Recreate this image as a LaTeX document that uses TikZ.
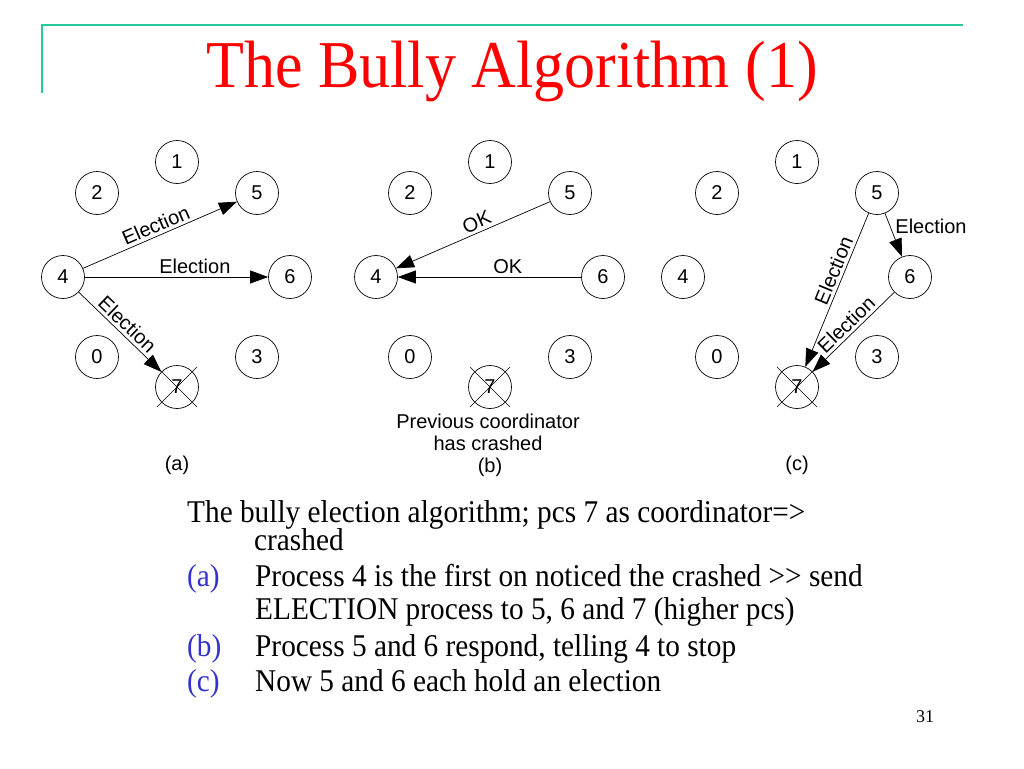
\documentclass[tikz,border=0pt]{standalone}
\usepackage{fontspec}
\usepackage{graphicx}
\setmainfont{Liberation Serif}
\newfontfamily\diagfont{Liberation Sans}
\usetikzlibrary{arrows.meta}
\definecolor{titlered}{RGB}{255,0,0}
\definecolor{frameteal}{RGB}{40,200,160}
\definecolor{itemblue}{RGB}{51,51,204}
\newcommand{\tallx}[1]{\scalebox{1}[1.08]{#1}}
\begin{document}
\begin{tikzpicture}[x=1pt,y=1pt,
  proc/.style={circle,draw,line width=0.7pt,minimum size=43pt,inner sep=0pt,font=\diagfont\fontsize{20}{24}\selectfont},
  msg/.style={draw,line width=0.7pt,-{Triangle[length=18pt,width=13pt]}},
  lbl/.style={font=\diagfont\fontsize{20}{24}\selectfont,inner sep=3pt},
  cross/.style={line width=0.6pt},
  body/.style={anchor=base west,inner sep=0pt,font=\fontsize{29.3}{34}\selectfont},
  tag/.style={body,text=itemblue}]
\useasboundingbox (0,0) rectangle (1024,-768);
% frame lines
\draw[frameteal,line width=2pt] (42,-93) -- (42,-25) -- (963,-25);
% title
\node[anchor=base,inner sep=0pt,text=titlered,font=\fontsize{62}{70}\selectfont] (title) at (512,-87) {\tallx{The Bully Algorithm (1)}};
% processes
\foreach \p/\cx in {a/177,b/490,c/797}{
  \foreach \n/\dx/\dy in {1/0/0,2/-80/31,5/80/31,4/-114/115,6/113/115,0/-80/195,3/80/195,7/0/225}{
    \node[proc] (\p\n) at (\cx+\dx,-162-\dy) {\n};
  }
  \draw[cross] ([shift={(-20,-20)}]\p7.center) -- ([shift={(20,20)}]\p7.center);
  \draw[cross] ([shift={(20,-20)}]\p7.center) -- ([shift={(-20,20)}]\p7.center);
}
% panel (a)
\draw[msg] (a4) -- node[lbl,sloped,above] {Election} (a5);
\draw[msg] (a4) -- node[lbl,above,pos=0.6] {Election} (a6);
\draw[msg] (a4) -- node[lbl,sloped,above] {Election} (a7);
% panel (b)
\draw[msg] (b5) -- node[lbl,sloped,above,pos=0.45] {OK} (b4);
\draw[msg] (b6) -- node[lbl,above,pos=0.4] {OK} (b4);
% panel (c)
\draw[msg] (c5) -- node[lbl,sloped,above,pos=0.4] {Election} (c7);
\draw[msg] (c6) -- node[lbl,sloped,above,pos=0.5] {Election} (c7);
\draw[msg] (c5) -- node[lbl,right,pos=0.3,xshift=2pt] {Election} (c6);
% captions
\node[lbl,anchor=base] (capa) at (177,-470) {(a)};
\node[lbl,anchor=base] (capb) at (490,-472) {(b)};
\node[lbl,anchor=base] (capc) at (797,-470) {(c)};
\node[lbl,align=center,font=\diagfont\fontsize{20}{22}\selectfont] (crashnote) at (488,-432) {Previous coordinator\\has crashed};
% body text
\node[body] (l1) at (187,-522) {\tallx{The bully election algorithm; pcs 7 as coordinator=>}};
\node[body] (l2) at (254,-550) {\tallx{crashed}};
\node[tag] (ta) at (187,-586) {\tallx{(a)}};
\node[body] (l3) at (255,-586) {\tallx{Process 4 is the first on noticed the crashed >\kern0pt> send}};
\node[body] (l4) at (255,-619) {\tallx{ELECTION process to 5, 6 and 7 (higher pcs)}};
\node[tag] (tb) at (187,-656) {\tallx{(b)}};
\node[body] (l5) at (255,-656) {\tallx{Process 5 and 6 respond, telling 4 to stop}};
\node[tag] (tc) at (187,-691) {\tallx{(c)}};
\node[body] (l6) at (255,-691) {\tallx{Now 5 and 6 each hold an election}};
\node[anchor=base,inner sep=0pt,font=\fontsize{18}{20}\selectfont] (pg) at (925,-722) {31};
\end{tikzpicture}
\end{document}
